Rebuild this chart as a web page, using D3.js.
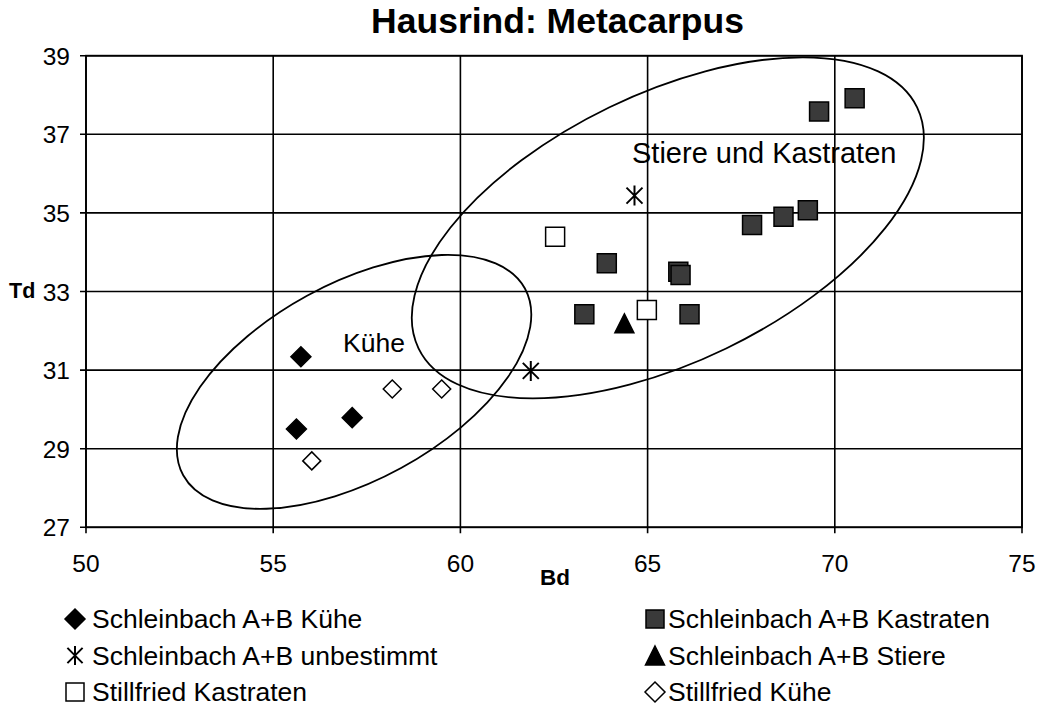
<!DOCTYPE html>
<html><head><meta charset="utf-8">
<script src="https://cdn.jsdelivr.net/npm/d3@7"></script>
<style>
body{margin:0;background:#fff;}
text{font-family:"Liberation Sans", Arial, sans-serif;}
</style></head>
<body><svg id="c" width="1047" height="706"></svg>
<script>
const xTicks = [50,55,60,65,70,75];
const yTicks = [27,29,31,33,35,37,39];
const kueheSB = [[55.74,31.34],[55.62,29.50],[57.11,29.79]];
const kastratenSB = [[63.91,33.72],[65.82,33.50],[65.88,33.42],[63.31,32.42],[66.12,32.42],[67.79,34.69],[68.63,34.90],[69.28,35.07],[69.58,37.58],[70.53,37.92]];
const unbestimmtSB = [[61.88,30.98],[64.65,35.44]];
const stiereSB = [[64.38,32.19]];
const kastratenSF = [[62.53,34.39],[64.98,32.53]];
const kueheSF = [[56.03,28.69],[58.18,30.52],[59.50,30.52]];
const seriesNames = ["Schleinbach A+B Kühe","Schleinbach A+B Kastraten","Schleinbach A+B unbestimmt","Schleinbach A+B Stiere","Stillfried Kastraten","Stillfried Kühe"];
const groupLabels = ["Kühe","Stiere und Kastraten"];
const groupCenters = [[57.16,30.70],[65.54,34.62]];

const svg = d3.select("#c");
const x = d3.scaleLinear().domain([50,75]).range([86,1022]);
const y = d3.scaleLinear().domain([27,39]).range([527.3,55.7]);

function markerPath(type, s){
  const h = s/2;
  switch(type){
    case "diamond": return `M0,${-h}L${h},0L0,${h}L${-h},0Z`;
    case "square": return `M${-h},${-h}H${h}V${h}H${-h}Z`;
    case "triangle": return `M0,${-h}L${h},${h}L${-h},${h}Z`;
    case "star": return `M${-h*0.8},${-h*0.8}L${h*0.8},${h*0.8}M${h*0.8},${-h*0.8}L${-h*0.8},${h*0.8}M0,${-h}V${h}`;
  }
}
const styles = [
  {type:"diamond", fill:"#000", stroke:"#000", size:20, data:kueheSB},
  {type:"square", fill:"#3a3a3a", stroke:"#000", size:19, data:kastratenSB},
  {type:"star", fill:"none", stroke:"#000", size:20, data:unbestimmtSB},
  {type:"triangle", fill:"#000", stroke:"#000", size:19, data:stiereSB},
  {type:"square", fill:"#fff", stroke:"#000", size:19, data:kastratenSF},
  {type:"diamond", fill:"#fff", stroke:"#000", size:18, data:kueheSF}
];

svg.append("text").attr("x",557.5).attr("y",33).attr("text-anchor","middle")
  .style("font-weight","bold").style("font-size","35.5px").text("Hausrind: Metacarpus");

const g = svg.append("g");
g.selectAll(".vg").data(xTicks).enter().append("line")
  .attr("x1",d=>x(d)).attr("x2",d=>x(d)).attr("y1",y(39)).attr("y2",y(27)+6)
  .attr("stroke","#000").attr("stroke-width",1.6);
g.selectAll(".hg").data(yTicks).enter().append("line")
  .attr("y1",d=>y(d)).attr("y2",d=>y(d)).attr("x1",x(50)-6).attr("x2",x(75))
  .attr("stroke","#000").attr("stroke-width",1.6);
g.append("rect").attr("x",x(50)).attr("y",y(39)).attr("width",x(75)-x(50)).attr("height",y(27)-y(39))
  .attr("fill","none").attr("stroke","#000").attr("stroke-width",1.8);

svg.selectAll(".xl").data(xTicks).enter().append("text")
  .attr("x",d=>x(d)).attr("y",572).attr("text-anchor","middle").style("font-size","24.5px").text(d=>d);
svg.selectAll(".yl").data(yTicks).enter().append("text")
  .attr("x",70).attr("y",d=>y(d)+9).attr("text-anchor","end").style("font-size","24.5px").text(d=>d);
svg.append("text").attr("x",555).attr("y",585).attr("text-anchor","middle")
  .style("font-weight","bold").style("font-size","22.5px").text("Bd");
svg.append("text").attr("x",9).attr("y",298)
  .style("font-weight","bold").style("font-size","21.5px").text("Td");

const ellipses = [{c:groupCenters[0], rx:194.7, ry:98.1, rot:-28.65},{c:groupCenters[1], rx:276.9, ry:134, rot:-25.8}];
svg.selectAll(".el").data(ellipses).enter().append("ellipse")
  .attr("cx",d=>x(d.c[0])).attr("cy",d=>y(d.c[1])).attr("rx",d=>d.rx).attr("ry",d=>d.ry)
  .attr("transform",d=>`rotate(${d.rot} ${x(d.c[0])} ${y(d.c[1])})`)
  .attr("fill","none").attr("stroke","#000").attr("stroke-width",1.8);

svg.append("text").attr("x",343).attr("y",352).style("font-size","26.5px").text(groupLabels[0]);
svg.append("text").attr("x",632).attr("y",163).style("font-size","29px").text(groupLabels[1]);

styles.forEach(st=>{
  svg.append("g").selectAll("path").data(st.data).enter().append("path")
    .attr("transform",d=>`translate(${x(d[0])},${y(d[1])})`)
    .attr("d",markerPath(st.type, st.size))
    .attr("fill",st.fill).attr("stroke",st.stroke).attr("stroke-width",st.type==="star"?2:1.5);
});

const legPos = [[0,0],[1,0],[0,1],[1,1],[0,2],[1,2]];
const lg = svg.append("g");
seriesNames.forEach((name,si)=>{
  const col = legPos[si][0], row = legPos[si][1];
  const mx = col===0 ? 75 : 655, tx = col===0 ? 92 : 668;
  const yy = 628 + row*36.5;
  const st = styles[si];
  lg.append("path").attr("transform",`translate(${mx},${yy-9})`)
    .attr("d",markerPath(st.type, st.type==="square"?18:(st.type==="diamond"?20:19)))
    .attr("fill",st.fill).attr("stroke",st.stroke).attr("stroke-width",st.type==="star"?2:1.5);
  lg.append("text").attr("x",tx).attr("y",yy).style("font-size","26.5px").text(name);
});
</script></body></html>
